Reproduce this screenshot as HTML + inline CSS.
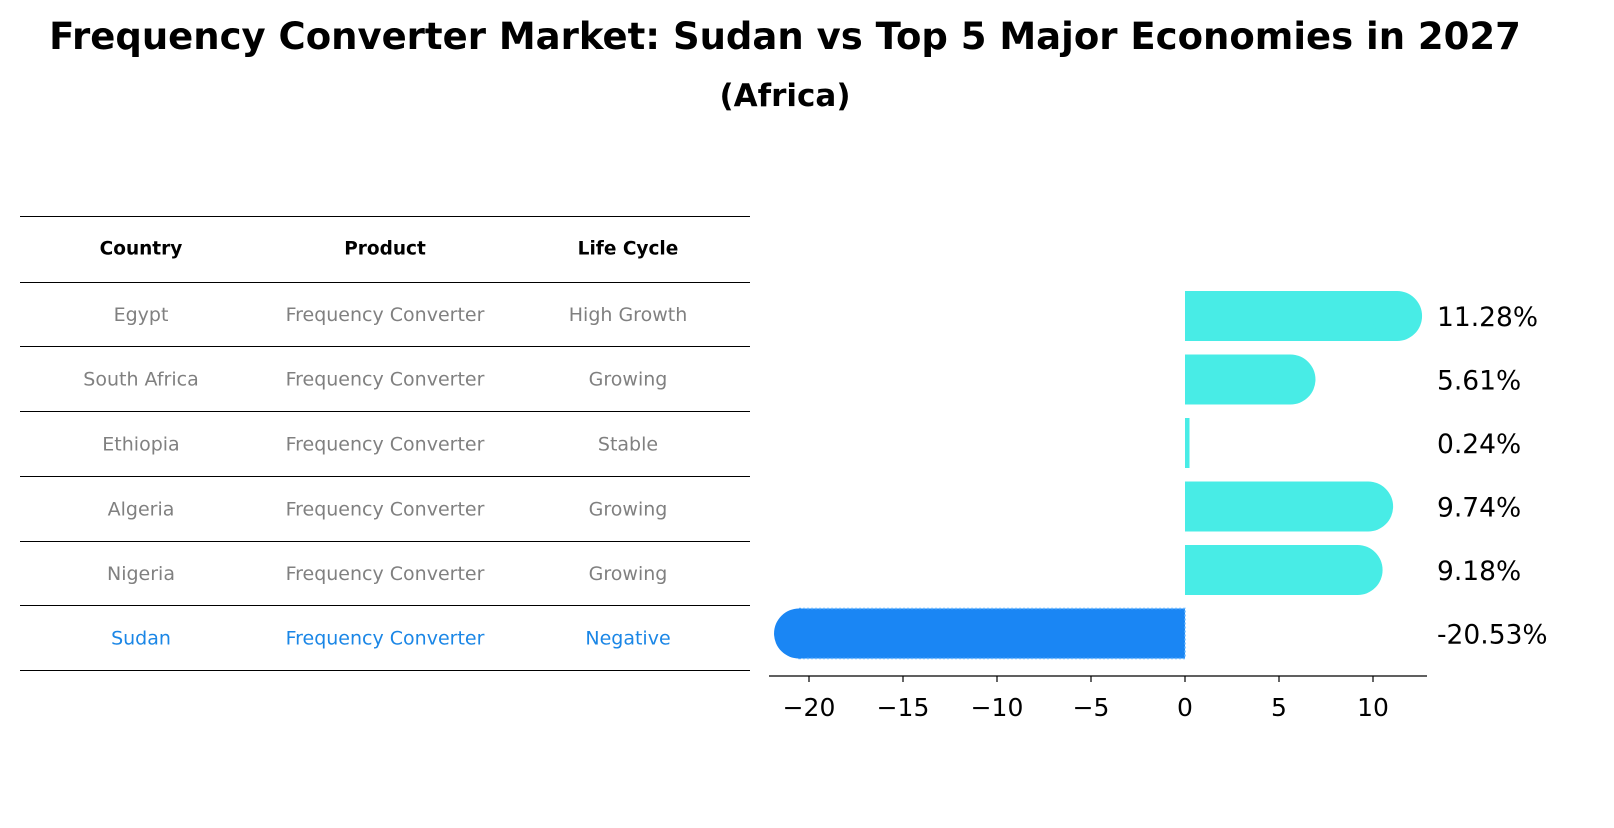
<!DOCTYPE html>
<html><head><meta charset="utf-8"><style>
body{margin:0;background:#fff;font-family:"Liberation Sans","DejaVu Sans",sans-serif}
</style></head><body>
<svg id="chart" width="1614" height="823" xmlns="http://www.w3.org/2000/svg" font-family="DejaVu Sans, Liberation Sans, sans-serif">
<text x="785" y="49" text-anchor="middle" font-size="37" font-weight="bold">Frequency Converter Market: Sudan vs Top 5 Major Economies in 2027</text>
<text x="785" y="106" text-anchor="middle" font-size="31" font-weight="bold">(Africa)</text>
<g id="table"></g>
<g id="bars"></g>
</svg>
<script>
const countries=["Egypt","South Africa","Ethiopia","Algeria","Nigeria","Sudan"];
const products=["Frequency Converter","Frequency Converter","Frequency Converter","Frequency Converter","Frequency Converter","Frequency Converter"];
const lifeCycles=["High Growth","Growing","Stable","Growing","Growing","Negative"];
const values=[11.28,5.61,0.24,9.74,9.18,-20.53];
const valueLabels=["11.28%","5.61%","0.24%","9.74%","9.18%","-20.53%"];
const ticks=[-20,-15,-10,-5,0,5,10];
const tickLabels=["\u221220","\u221215","\u221210","\u22125","0","5","10"];

const NS="http://www.w3.org/2000/svg";
function mk(tag,attrs,parent){const e=document.createElementNS(NS,tag);for(const k in attrs)e.setAttribute(k,attrs[k]);parent.appendChild(e);return e;}
const tbl=document.getElementById('table');
const lineYs=[216,282,346,411,476,541,605,670];
lineYs.forEach((y,i)=>{const l=mk('line',{x1:20,x2:750,y1:y+0.5,y2:y+0.5,stroke:'#000','stroke-width':1},tbl);

});
const colX=[141,385,628];
["Country","Product","Life Cycle"].forEach((h,i)=>{const t=mk('text',{x:colX[i],y:254.5,'text-anchor':'middle','font-size':18.5,'font-weight':'bold'},tbl);t.textContent=h;

});
countries.forEach((c,r)=>{const y=(lineYs[r+1]+lineYs[r+2])/2+7;const col=c==="Sudan"?"#1a86e6":"#808080";
[c,products[r],lifeCycles[r]].forEach((v,i)=>{const t=mk('text',{x:colX[i],y:y,'text-anchor':'middle','font-size':19,fill:col},tbl);t.textContent=v;

});});

const g=document.getElementById('bars');
const x0=1185,pxPer=18.8;
const xs=v=>x0+v*pxPer;
const yc=i=>316+i*63.5;
const h=50,r=25;
values.forEach((v,i)=>{
 const neg=v<0;const fill=neg?"#1a86f4":"#48ece6";
 const xa=Math.min(xs(0),xs(v)),xb=Math.max(xs(0),xs(v));
 const rect=mk('rect',{x:xa,y:yc(i)-h/2,width:xb-xa,height:h,fill:fill},g);
 
 
 if(neg){rect.setAttribute('stroke','#6ab8ff');rect.setAttribute('stroke-dasharray','2,2');rect.setAttribute('stroke-width','1.5');}
 if(Math.abs(v)>1){const c=mk('circle',{cx:xs(v),cy:yc(i),r:r,fill:fill},g);
 
 }
 const t=mk('text',{x:1437,y:yc(i)+10,'font-size':26.5},g);t.textContent=valueLabels[i];
 
 
});
const ax=mk('line',{x1:769,x2:1427,y1:676,y2:676,stroke:'#000','stroke-width':1.2},g);


ticks.forEach((tv,i)=>{const tk=mk('line',{x1:xs(tv),x2:xs(tv),y1:676,y2:682,stroke:'#000','stroke-width':1.2},g);


const t=mk('text',{x:xs(tv),y:716,'text-anchor':'middle','font-size':25},g);t.textContent=tickLabels[i];

});
</script>
</body></html>
